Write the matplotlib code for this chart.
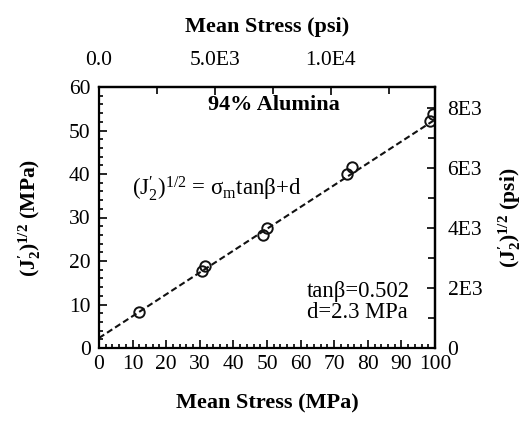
import matplotlib
matplotlib.use("Agg")
import matplotlib.pyplot as plt
from matplotlib.ticker import MultipleLocator, FixedLocator, FixedFormatter
import numpy as np

plt.rcParams['font.family'] = ['Liberation Serif', 'DejaVu Serif']
plt.rcParams['mathtext.fontset'] = 'custom'
plt.rcParams['mathtext.rm'] = 'Liberation Serif'
plt.rcParams['mathtext.it'] = 'Liberation Serif:italic'
plt.rcParams['mathtext.bf'] = 'Liberation Serif:bold'

# Data (MPa)
mean_stress = [11.8, 30.8, 31.4, 48.9, 49.9, 73.9, 75.3, 98.5, 99.4]
j2_sqrt = [8.3, 17.6, 18.9, 26.0, 27.5, 40.0, 41.5, 52.2, 53.9]
tan_beta = 0.502
d = 2.3
fit_x = [0, 100]

PSI_PER_MPA = 145.04
top_ticks = [0, 5000, 10000]
top_labels = ["0.0", "5.0E3", "1.0E4"]
right_ticks = [0, 2000, 4000, 6000, 8000]
right_labels = ["0", "2E3", "4E3", "6E3", "8E3"]

fig = plt.figure(figsize=(5.27, 4.21), dpi=100)
ax = fig.add_axes([99/527, 1-348/421, (435-99)/527, (348-87)/421])

fx = np.array(fit_x, dtype=float)
ax.plot(fx, tan_beta*fx + d, linestyle=(0, (3, 1.6)), color='#111111', lw=1.5)
ax.plot(mean_stress, j2_sqrt, 'o', mfc='none', mec='#111111', ms=7.5, mew=1.4)

ax.set_xlim(0, 100)
ax.set_ylim(0, 60)
ax.xaxis.set_major_locator(MultipleLocator(10))
ax.xaxis.set_minor_locator(MultipleLocator(2))
ax.yaxis.set_major_locator(MultipleLocator(10))
ax.yaxis.set_minor_locator(MultipleLocator(2))
ax.tick_params(axis='both', which='both', direction='in', labelsize=15.5, width=1.2)
ax.tick_params(which='major', length=6)
ax.tick_params(which='minor', length=3)
ax.tick_params(axis='x', pad=5)
ax.tick_params(axis='y', pad=6)
for s in ax.spines.values():
    s.set_linewidth(1.6)

ax.set_xlabel("Mean Stress (MPa)", fontsize=16, fontweight='bold', labelpad=14)
ax.set_ylabel(r"$\mathbf{(J_2^{\prime})^{1/2}}$ (MPa)", fontsize=15.5, fontweight='bold', labelpad=19)

# top axis (psi)
top = ax.secondary_xaxis('top', functions=(lambda x: x*PSI_PER_MPA, lambda p: p/PSI_PER_MPA))
top.xaxis.set_major_locator(FixedLocator(top_ticks))
top.xaxis.set_major_formatter(FixedFormatter(top_labels))
top.xaxis.set_minor_locator(MultipleLocator(2500))
top.tick_params(which='both', direction='in', labelsize=15.5, pad=12, width=1.2)
top.tick_params(which='major', length=6)
top.tick_params(which='minor', length=5)
top.spines['top'].set_linewidth(1.6)
top.set_xlabel("Mean Stress (psi)", fontsize=16, fontweight='bold', labelpad=14)

# right axis (psi)
right = ax.secondary_yaxis('right', functions=(lambda y: y*PSI_PER_MPA, lambda p: p/PSI_PER_MPA))
right.yaxis.set_major_locator(FixedLocator(right_ticks))
right.yaxis.set_major_formatter(FixedFormatter(right_labels))
right.yaxis.set_minor_locator(MultipleLocator(1000))
right.tick_params(which='both', direction='in', labelsize=15.5, pad=9, width=1.2)
right.tick_params(which='major', length=6)
right.tick_params(which='minor', length=5)
right.spines['right'].set_linewidth(1.6)
right.set_ylabel(r"$\mathbf{(J_2^{\prime})^{1/2}}$ (psi)", fontsize=15.5, fontweight='bold', labelpad=10)

ax.text(32.4, 54.7, "94% Alumina", fontsize=16, fontweight='bold')
ax.text(9.8, 35.2, r"$(\mathrm{J}_2^{\prime})^{1/2}$ = σ$_\mathrm{m}$tanβ+d", fontsize=16.5)
ax.text(61.9, 11.7, "tanβ=0.502", fontsize=16.3)
ax.text(61.9, 6.9, "d=2.3 MPa", fontsize=16.3)

fig.savefig("out.png", dpi=100)
